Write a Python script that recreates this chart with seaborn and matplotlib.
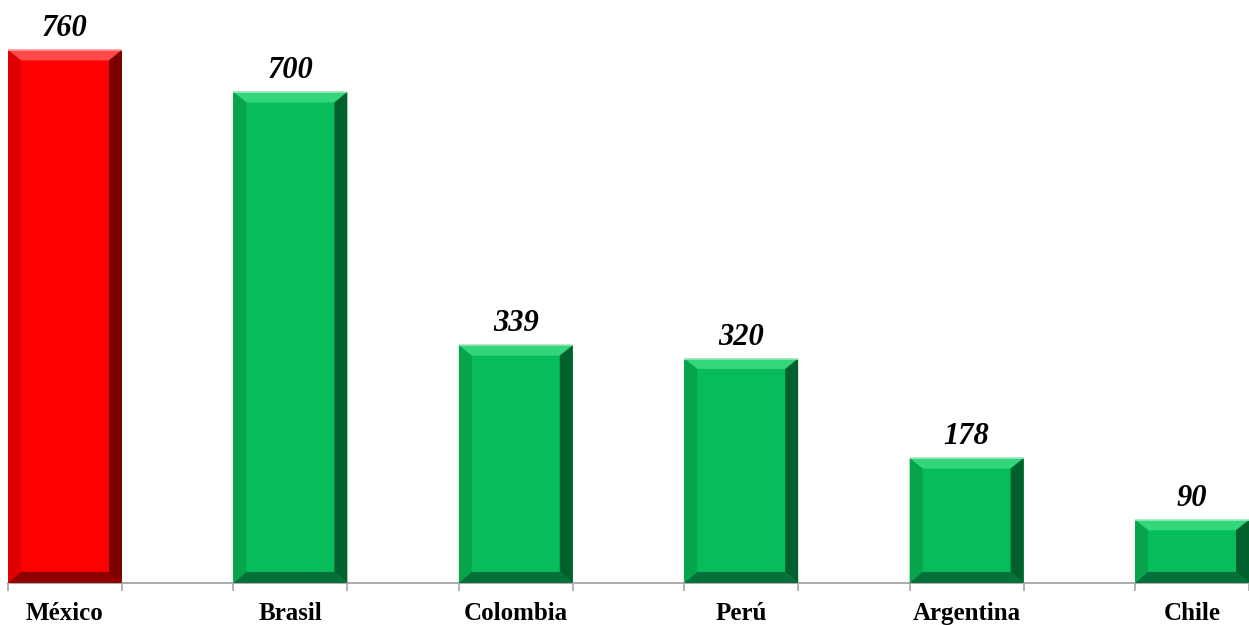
import matplotlib
matplotlib.use("Agg")
import matplotlib.pyplot as plt
from matplotlib.patches import Polygon
import seaborn as sns
import pandas as pd

countries = ["México", "Brasil", "Colombia", "Perú", "Argentina", "Chile"]
values = [760, 700, 339, 320, 178, 90]
highlight = "México"

df = pd.DataFrame({"country": countries, "value": values})

sns.set_theme(style="white")
plt.rcParams["font.family"] = ["Liberation Serif", "DejaVu Serif"]

W, H = 1249, 625
fig = plt.figure(figsize=(W / 100, H / 100), dpi=100)
ax = fig.add_axes([8 / W, 42 / H, 1241 / W, 583 / H])

face = {c: ("#FF0000" if c == highlight else "#07BD5A") for c in countries}
sns.barplot(data=df, x="country", y="value", hue="country", palette=face,
            width=0.5055, saturation=1, legend=False, ax=ax, edgecolor="none")

half = 0.5055 / 2
ax.set_xlim(-half, len(countries) - 1 + half)
ax.set_ylim(0, 583 / (533 / 760))

# bevel shading around each bar
bev_px = 13
px_x = 1241 / (len(countries) - 1 + 2 * half)
px_y = 533 / 760
bx = bev_px / px_x
by = bev_px / px_y
shades = {
    True: dict(top="#FF4A4A", left="#E00000", right="#7A0000", bottom="#8E0000"),
    False: dict(top="#33D67A", left="#07A44C", right="#02602C", bottom="#05703A"),
}
for patch, c in zip(ax.patches, countries):
    x0 = patch.get_x()
    x1 = x0 + patch.get_width()
    y0 = 0
    y1 = patch.get_height()
    s = shades[c == highlight]
    ix0, ix1 = x0 + bx, x1 - bx
    iy0, iy1 = y0 + by * 0.85, y1 - by * 0.8
    polys = [
        ([(x0, y1), (x1, y1), (ix1, iy1), (ix0, iy1)], s["top"]),
        ([(x0, y0), (x0, y1), (ix0, iy1), (ix0, iy0)], s["left"]),
        ([(x1, y0), (x1, y1), (ix1, iy1), (ix1, iy0)], s["right"]),
        ([(x0, y0), (x1, y0), (ix1, iy0), (ix0, iy0)], s["bottom"]),
    ]
    for pts, col in polys:
        ax.add_patch(Polygon(pts, closed=True, facecolor=col, edgecolor="none", zorder=3))
    ax.add_patch(Polygon([(x0, y1), (x1, y1)], closed=False,
                         edgecolor="#9FE8BE" if c != highlight else "#FF9A9A",
                         linewidth=1.2, fill=False, zorder=4))
    ax.annotate(f"{int(y1)}", (patch.get_x() + patch.get_width() / 2, y1),
                xytext=(0, 5), textcoords="offset points", ha="center", va="bottom",
                fontsize=22, fontweight="bold", fontstyle="italic", color="black")

for sp in ["top", "right", "left"]:
    ax.spines[sp].set_visible(False)
ax.spines["bottom"].set_color("#A6A6A6")
ax.spines["bottom"].set_linewidth(1.3)
ax.set_yticks([])
ax.set_xlabel("")
ax.set_ylabel("")

edges = []
for patch in ax.patches[:len(countries)]:
    edges += [patch.get_x(), patch.get_x() + patch.get_width()]
ax.set_xticks(edges, minor=True)
ax.tick_params(axis="x", which="minor", length=6, width=1.2, color="#A6A6A6", direction="out", bottom=True)
ax.tick_params(axis="x", which="major", length=0, pad=14, labelsize=18)
for lbl in ax.get_xticklabels():
    lbl.set_fontweight("bold")
    lbl.set_color("black")

fig.savefig("out.png", dpi=100)
